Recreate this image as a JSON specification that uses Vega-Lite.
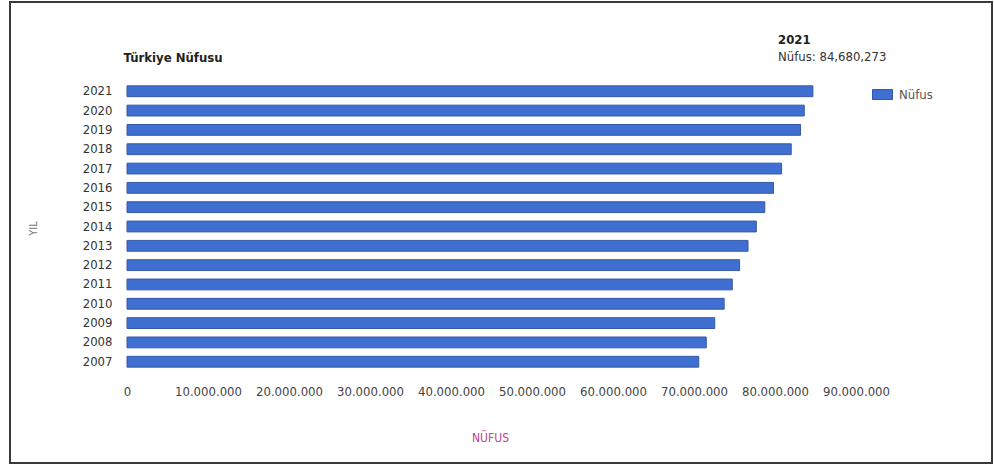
{
  "$schema": "https://vega.github.io/schema/vega-lite/v6.json",
  "width": 982,
  "height": 461,
  "autosize": {"type": "none"},
  "padding": {"left": 10, "top": 2, "right": 2, "bottom": 3},
  "background": "white",
  "title": {
    "text": "2021",
    "subtitle": "Nüfus: 84,680,273",
    "anchor": "start",
    "frame": "group",
    "dx": 768,
    "dy": 66,
    "font": "DejaVu Sans Condensed, Liberation Sans, sans-serif",
    "fontSize": 13,
    "fontWeight": "bold",
    "color": "#222222",
    "subtitleFont": "DejaVu Sans Condensed, Liberation Sans, sans-serif",
    "subtitleFontSize": 13,
    "subtitleColor": "#333333",
    "subtitlePadding": 4
  },
  "data": {
    "values": [
      {"yil": 2007, "nufus": 70586256},
      {"yil": 2008, "nufus": 71517100},
      {"yil": 2009, "nufus": 72561312},
      {"yil": 2010, "nufus": 73722988},
      {"yil": 2011, "nufus": 74724269},
      {"yil": 2012, "nufus": 75627384},
      {"yil": 2013, "nufus": 76667864},
      {"yil": 2014, "nufus": 77695904},
      {"yil": 2015, "nufus": 78741053},
      {"yil": 2016, "nufus": 79814871},
      {"yil": 2017, "nufus": 80810525},
      {"yil": 2018, "nufus": 82003882},
      {"yil": 2019, "nufus": 83154997},
      {"yil": 2020, "nufus": 83614362},
      {"yil": 2021, "nufus": 84680273}
    ]
  },
  "layer": [
    {
      "mark": {"type": "bar", "stroke": "#3559a8", "strokeWidth": 1},
      "encoding": {
        "y": {
          "field": "yil",
          "type": "ordinal",
          "sort": "descending",
          "scale": {"range": [79.6, 369.4], "paddingInner": 0.44, "paddingOuter": 0.22},
          "axis": {
            "orient": "left",
            "offset": -117,
            "title": "YIL",
            "titleX": -94,
            "titleY": 226,
            "titleAngle": 270,
            "titleAlign": "center",
            "titleBaseline": "middle",
            "titleFont": "DejaVu Sans Condensed, Liberation Sans, sans-serif",
            "titleFontSize": 11,
            "titleFontWeight": "normal",
            "titleColor": "#777777",
            "labelFont": "DejaVu Sans Condensed, Liberation Sans, sans-serif",
            "labelFontSize": 13,
            "labelColor": "#333333",
            "labelPadding": 15,
            "ticks": false,
            "tickSize": 0,
            "domain": false,
            "grid": false
          }
        },
        "x": {
          "field": "nufus",
          "type": "quantitative",
          "scale": {"domain": [0, 90000000], "range": [117, 846], "nice": false, "zero": true},
          "axis": {
            "orient": "bottom",
            "offset": -91,
            "format": ",d",
            "values": [0, 10000000, 20000000, 30000000, 40000000, 50000000, 60000000, 70000000, 80000000, 90000000],
            "title": "NÜFUS",
            "titleX": 480,
            "titleY": 65,
            "titleAlign": "center",
            "titleBaseline": "middle",
            "titleColor": "#c2408f",
            "titleFont": "DejaVu Sans Condensed, Liberation Sans, sans-serif",
            "titleFontSize": 12,
            "titleFontWeight": "normal",
            "labelFont": "DejaVu Sans Condensed, Liberation Sans, sans-serif",
            "labelFontSize": 13,
            "labelColor": "#444444",
            "labelPadding": 13,
            "labelFlush": false,
            "labelOverlap": false,
            "ticks": false,
            "tickSize": 0,
            "domain": false,
            "grid": false
          }
        },
        "color": {
          "datum": "Nüfus",
          "scale": {"range": ["#3f6fd0"]},
          "legend": {
            "title": null,
            "orient": "none",
            "legendX": 862,
            "legendY": 82,
            "padding": 0,
            "symbolType": "M-1,-0.5H1V0.5H-1Z",
            "symbolSize": 400,
            "symbolStrokeColor": "#3559a8",
            "symbolStrokeWidth": 1,
            "labelFont": "DejaVu Sans Condensed, Liberation Sans, sans-serif",
            "labelFontSize": 13,
            "labelColor": "#555555",
            "labelOffset": 6
          }
        }
      }
    },
    {
      "mark": {"type": "bar", "opacity": 0},
      "encoding": {
        "y": {"field": "yil", "type": "ordinal", "sort": "descending"},
        "x": {
          "field": "nufus",
          "type": "quantitative",
          "axis": {
            "orient": "top",
            "labels": false,
            "ticks": false,
            "domain": false,
            "grid": false,
            "title": "Türkiye Nüfusu",
            "titleX": 113,
            "titleY": 55,
            "titleAlign": "left",
            "titleBaseline": "middle",
            "titleFont": "DejaVu Sans Condensed, Liberation Sans, sans-serif",
            "titleFontSize": 13,
            "titleFontWeight": "bold",
            "titleColor": "#222222"
          }
        }
      }
    }
  ],
  "resolve": {"axis": {"x": "independent"}},
  "config": {
    "view": {"stroke": "#3a3a3a", "strokeWidth": 2},
    "locale": {
      "number": {"decimal": ",", "thousands": ".", "grouping": [3], "currency": ["", " TL"]}
    }
  }
}
